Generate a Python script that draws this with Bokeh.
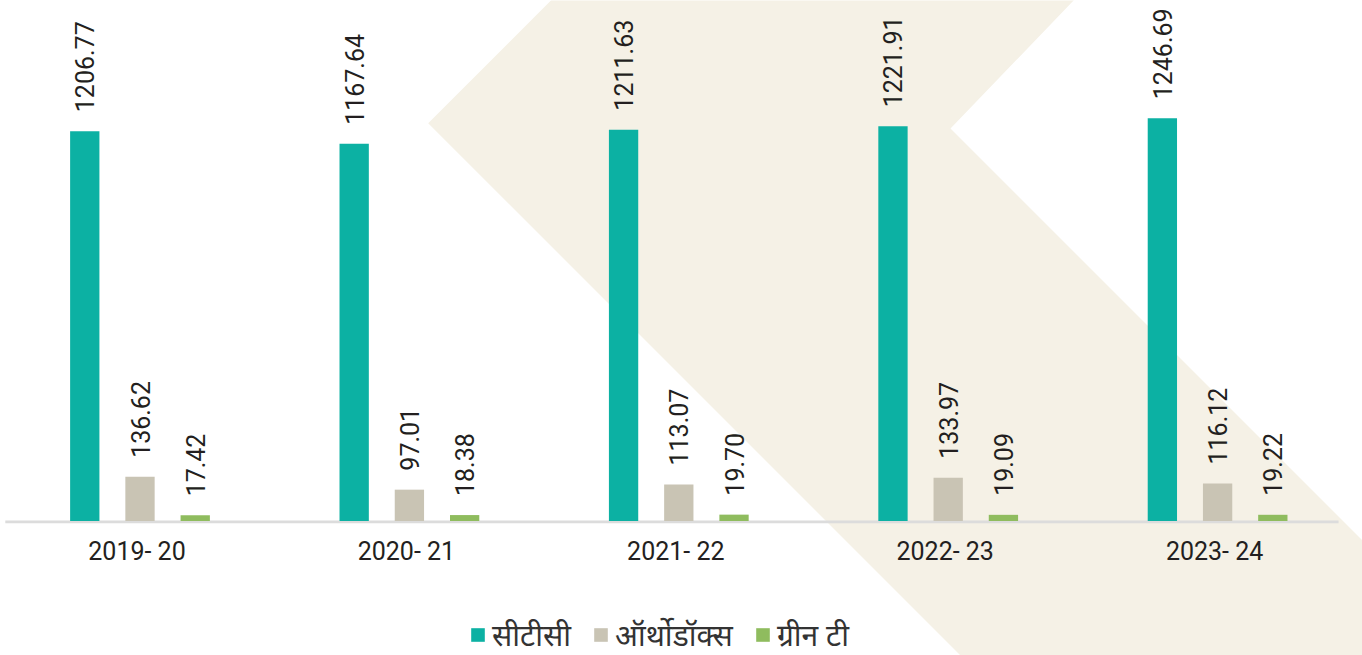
import math
from bokeh.plotting import figure
from bokeh.models import Range1d, Legend, LegendItem, ColumnDataSource
from bokeh.transform import dodge
from bokeh.core.properties import value
from bokeh.embed import file_html
from bokeh.resources import INLINE

# ---- data ----
years = ["2019- 20", "2020- 21", "2021- 22", "2022- 23", "2023- 24"]
ctc = [1206.77, 1167.64, 1211.63, 1221.91, 1246.69]
orthodox = [136.62, 97.01, 113.07, 133.97, 116.12]
green_tea = [17.42, 18.38, 19.70, 19.09, 19.22]
series_names = ["सीटीसी", "ऑर्थोडॉक्स", "ग्रीन टी"]

# ---- layout constants ----
W, H = 1362, 655
K = 3.096          # value units per pixel
ZERO_Y = 520.5     # canvas px (from top) of value 0
CAT_PX = 269.4     # px per category
X0_PX = 4.8        # canvas px of category coordinate 0

NUM_FONT = value("Roboto")
LEG_FONT = "Noto Sans"
TXT = "#231f20"
COLORS = ["#0cb1a3", "#c9c4b4", "#8fbc5e"]
OFFS = [-0.205, 0.0, 0.205]
BAR_W = 0.1088

# decorative chevron (canvas pixel coordinates)
CHEV_X = [552.4, 1075, 950, 1400, 1400, 1005, 427.7]
CHEV_Y = [-2, -2, 128, 578, 700, 700, 122.7]

p = figure(width=W, height=H,
           x_range=Range1d(-X0_PX / CAT_PX, (W - X0_PX) / CAT_PX),
           y_range=Range1d(-(H - ZERO_Y) * K, ZERO_Y * K),
           output_backend="svg", toolbar_location=None,
           x_axis_location=None, y_axis_location=None,
           min_border=0, outline_line_color=None,
           background_fill_color="white", border_fill_color="white")
p.grid.visible = False

p.extra_x_ranges["px"] = Range1d(0, W)
p.extra_y_ranges["px"] = Range1d(H, 0)
p.patch(CHEV_X, CHEV_Y, x_range_name="px", y_range_name="px",
        fill_color="#f5f1e6", line_color=None)

centers = [i + 0.5 for i in range(len(years))]
src = ColumnDataSource(dict(x=centers, year=years,
                            s0=ctc, s1=orthodox, s2=green_tea,
                            l0=["%.2f" % v for v in ctc],
                            l1=["%.2f" % v for v in orthodox],
                            l2=["%.2f" % v for v in green_tea]))

# baseline
p.segment(x0=[0], y0=[-0.8 * K], x1=[4.949], y1=[-0.8 * K],
          line_color="#dcdcdc", line_width=2.7)

renderers = []
for i in range(3):
    r = p.vbar(x=dodge("x", OFFS[i]), top="s%d" % i, bottom=0, width=BAR_W,
               source=src, fill_color=COLORS[i], line_color=None)
    renderers.append(r)
    p.text(x=dodge("x", OFFS[i]), y="s%d" % i, text="l%d" % i, source=src,
           angle=math.pi / 2, text_align="left", text_baseline="middle",
           y_offset=-19, text_font=NUM_FONT, text_font_size="25px",
           text_color=TXT)

p.text(x="x", y=0, text="year", source=src, text_align="center",
       text_baseline="middle", x_offset=-3, y_offset=30,
       text_font=NUM_FONT, text_font_size="25px", text_color=TXT)

legend = Legend(items=[LegendItem(label=series_names[i], renderers=[renderers[i]])
                       for i in range(3)],
                orientation="horizontal", location=(469, 0),
                glyph_width=17, glyph_height=17, label_standoff=6, spacing=21,
                label_text_font=LEG_FONT, label_text_font_size="30px",
                label_text_color="#333333",
                background_fill_alpha=0, border_line_alpha=0,
                padding=0, margin=0)
p.add_layout(legend)

open("out.html", "w").write(file_html(p, INLINE))
